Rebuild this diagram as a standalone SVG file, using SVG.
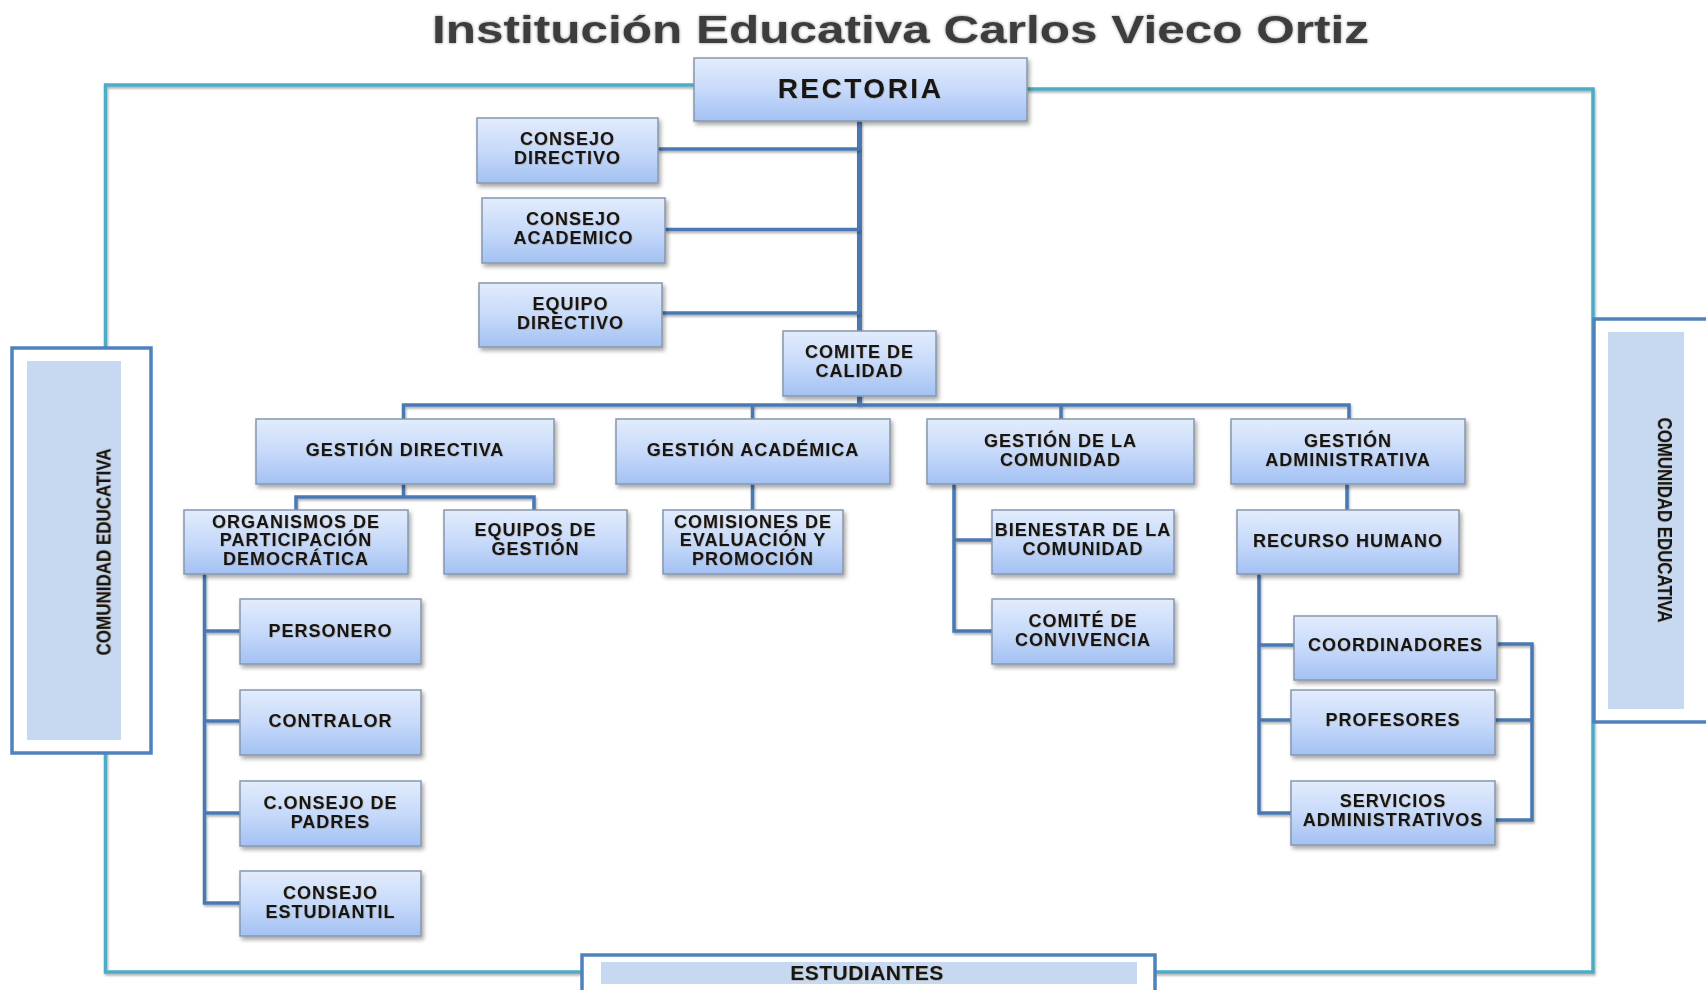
<svg xmlns="http://www.w3.org/2000/svg" width="1706" height="990" viewBox="0 0 1706 990">
<defs>
<linearGradient id="boxg" x1="0" y1="0" x2="0" y2="1">
<stop offset="0" stop-color="#e2ecfc"/>
<stop offset="0.5" stop-color="#c7dafa"/>
<stop offset="1" stop-color="#a3c1f3"/>
</linearGradient>
<filter id="sh" x="-10%" y="-10%" width="130%" height="140%">
<feDropShadow dx="2" dy="3" stdDeviation="2" flood-color="#000" flood-opacity="0.35"/>
</filter>
<filter id="lsh" filterUnits="userSpaceOnUse" x="0" y="0" width="1706" height="990">
<feDropShadow dx="1" dy="2" stdDeviation="1.2" flood-color="#000" flood-opacity="0.3"/>
</filter>
<filter id="tsh" x="-5%" y="-30%" width="110%" height="160%">
<feDropShadow dx="0" dy="0" stdDeviation="1.5" flood-color="#777" flood-opacity="0.8"/>
</filter>
<filter id="txs" x="-5%" y="-30%" width="110%" height="160%">
<feDropShadow dx="0.5" dy="0.5" stdDeviation="0.6" flood-color="#6b4a1a" flood-opacity="0.45"/>
</filter>
</defs>
<style>
.box{fill:url(#boxg);stroke:#8796ad;stroke-width:1.5;filter:url(#sh)}
.lbl{font-family:"Liberation Sans",Arial,sans-serif;font-weight:bold;font-size:18px;letter-spacing:1px;fill:#141414;text-anchor:middle;filter:url(#txs)}
.big{font-size:28px;letter-spacing:2.5px}
.stu{font-size:21px;letter-spacing:0.5px}
.conn{fill:none;stroke:#4a78b3;stroke-width:3.5;stroke-linejoin:miter;filter:url(#lsh)}
.trunk{stroke-width:5}
.frame{fill:none;stroke:#4bacc6;stroke-width:3.5;filter:url(#lsh)}
.side{fill:#fff;stroke:#4f81bd;stroke-width:3.5}
.inner{fill:#c6d9f1}
.vt{font-family:"Liberation Sans",Arial,sans-serif;font-weight:bold;font-size:21px;fill:#141414;text-anchor:middle;filter:url(#txs)}
</style>
<rect width="1706" height="990" fill="#fff"/>
<text x="432" y="43" font-family="Liberation Sans, Arial, sans-serif" font-weight="bold" font-size="38" fill="#3c3c3c" textLength="937" lengthAdjust="spacingAndGlyphs" filter="url(#tsh)">Institución Educativa Carlos Vieco Ortiz</text>
<g id="frame">
<path class="frame" d="M694,85 H105.5 V972 H1593 V89 H1027"/>
</g>
<g id="comunidad-izq">
<rect class="side" x="12" y="348" width="139" height="405"/>
<rect class="inner" x="27" y="361" width="94" height="379"/>
<text class="vt" transform="translate(110.5,552) rotate(-90)" textLength="207" lengthAdjust="spacingAndGlyphs">COMUNIDAD EDUCATIVA</text>
</g>
<g id="comunidad-der">
<rect class="side" x="1594" y="319" width="130" height="403"/>
<rect class="inner" x="1608" y="332" width="76" height="377"/>
<text class="vt" transform="translate(1658,520) rotate(90)" textLength="205" lengthAdjust="spacingAndGlyphs">COMUNIDAD EDUCATIVA</text>
</g>
<g id="estudiantes">
<rect class="side" x="582" y="955" width="573" height="50"/>
<rect class="inner" x="601" y="962" width="536" height="22"/>
<text class="lbl stu" x="867" y="980">ESTUDIANTES</text>
</g>
<g id="connectors">
<path class="conn trunk" d="M859.5,121 V405"/>
<path class="conn" d="M658,149 H859.5"/>
<path class="conn" d="M665,229.5 H859.5"/>
<path class="conn" d="M662,313 H859.5"/>
<path class="conn" d="M403.5,419 V405 H1349 V419"/>
<path class="conn" d="M752.5,405 V419"/>
<path class="conn" d="M1061,405 V419"/>
<path class="conn" d="M403.5,484 V497 M296,510 V497 H534 V510"/>
<path class="conn" d="M752.5,484 V510"/>
<path class="conn" d="M954,484 V631 H992 M954,540 H992"/>
<path class="conn" d="M1347,484 V510"/>
<path class="conn" d="M204.5,574 V903 H240 M204.5,631 H240 M204.5,721 H240 M204.5,813 H240"/>
<path class="conn" d="M1259,574 V813 H1291 M1259,645 H1294 M1259,720 H1291"/>
<path class="conn" d="M1490,644 H1532 V820 H1488 M1488,720 H1532"/>
</g>
<g id="rectoria">
<rect class="box" x="694" y="58" width="333" height="63"/>
<text class="lbl big" x="860.5" y="98">RECTORIA</text>
</g>
<g id="consejo-directivo">
<rect class="box" x="477" y="118" width="181" height="65"/>
<text class="lbl" x="567.5" y="145">CONSEJO</text>
<text class="lbl" x="567.5" y="164">DIRECTIVO</text>
</g>
<g id="consejo-academico">
<rect class="box" x="482" y="198" width="183" height="65"/>
<text class="lbl" x="573.5" y="225">CONSEJO</text>
<text class="lbl" x="573.5" y="244">ACADEMICO</text>
</g>
<g id="equipo-directivo">
<rect class="box" x="479" y="283" width="183" height="64"/>
<text class="lbl" x="570.5" y="309.5">EQUIPO</text>
<text class="lbl" x="570.5" y="328.5">DIRECTIVO</text>
</g>
<g id="comite-calidad">
<rect class="box" x="783" y="331" width="153" height="65"/>
<text class="lbl" x="859.5" y="358">COMITE DE</text>
<text class="lbl" x="859.5" y="377">CALIDAD</text>
</g>
<g id="gestion-directiva">
<rect class="box" x="256" y="419" width="298" height="65"/>
<text class="lbl" x="405" y="456">GESTIÓN DIRECTIVA</text>
</g>
<g id="gestion-academica">
<rect class="box" x="616" y="419" width="274" height="65"/>
<text class="lbl" x="753" y="456">GESTIÓN ACADÉMICA</text>
</g>
<g id="gestion-comunidad">
<rect class="box" x="927" y="419" width="267" height="65"/>
<text class="lbl" x="1060.5" y="446.5">GESTIÓN DE LA</text>
<text class="lbl" x="1060.5" y="465.5">COMUNIDAD</text>
</g>
<g id="gestion-administrativa">
<rect class="box" x="1231" y="419" width="234" height="65"/>
<text class="lbl" x="1348" y="446.5">GESTIÓN</text>
<text class="lbl" x="1348" y="465.5">ADMINISTRATIVA</text>
</g>
<g id="organismos">
<rect class="box" x="184" y="510" width="224" height="64"/>
<text class="lbl" x="296" y="527.5">ORGANISMOS DE</text>
<text class="lbl" x="296" y="546">PARTICIPACIÓN</text>
<text class="lbl" x="296" y="564.5">DEMOCRÁTICA</text>
</g>
<g id="equipos-gestion">
<rect class="box" x="444" y="510" width="183" height="64"/>
<text class="lbl" x="535.5" y="536">EQUIPOS DE</text>
<text class="lbl" x="535.5" y="555">GESTIÓN</text>
</g>
<g id="comisiones">
<rect class="box" x="663" y="510" width="180" height="64"/>
<text class="lbl" x="753" y="527.5">COMISIONES DE</text>
<text class="lbl" x="753" y="546">EVALUACIÓN Y</text>
<text class="lbl" x="753" y="564.5">PROMOCIÓN</text>
</g>
<g id="bienestar">
<rect class="box" x="992" y="510" width="182" height="64"/>
<text class="lbl" x="1083" y="536">BIENESTAR DE LA</text>
<text class="lbl" x="1083" y="555">COMUNIDAD</text>
</g>
<g id="recurso-humano">
<rect class="box" x="1237" y="510" width="222" height="64"/>
<text class="lbl" x="1348" y="546.5">RECURSO HUMANO</text>
</g>
<g id="personero">
<rect class="box" x="240" y="599" width="181" height="65"/>
<text class="lbl" x="330.5" y="637">PERSONERO</text>
</g>
<g id="contralor">
<rect class="box" x="240" y="690" width="181" height="65"/>
<text class="lbl" x="330.5" y="727">CONTRALOR</text>
</g>
<g id="consejo-padres">
<rect class="box" x="240" y="781" width="181" height="65"/>
<text class="lbl" x="330.5" y="808.5">C.ONSEJO DE</text>
<text class="lbl" x="330.5" y="827.5">PADRES</text>
</g>
<g id="consejo-estudiantil">
<rect class="box" x="240" y="871" width="181" height="65"/>
<text class="lbl" x="330.5" y="898.5">CONSEJO</text>
<text class="lbl" x="330.5" y="917.5">ESTUDIANTIL</text>
</g>
<g id="comite-convivencia">
<rect class="box" x="992" y="599" width="182" height="65"/>
<text class="lbl" x="1083" y="626.5">COMITÉ DE</text>
<text class="lbl" x="1083" y="645.5">CONVIVENCIA</text>
</g>
<g id="coordinadores">
<rect class="box" x="1294" y="616" width="203" height="64"/>
<text class="lbl" x="1395.5" y="650.5">COORDINADORES</text>
</g>
<g id="profesores">
<rect class="box" x="1291" y="690" width="204" height="65"/>
<text class="lbl" x="1393" y="725.5">PROFESORES</text>
</g>
<g id="servicios">
<rect class="box" x="1291" y="781" width="204" height="64"/>
<text class="lbl" x="1393" y="807">SERVICIOS</text>
<text class="lbl" x="1393" y="825.5">ADMINISTRATIVOS</text>
</g>
</svg>
